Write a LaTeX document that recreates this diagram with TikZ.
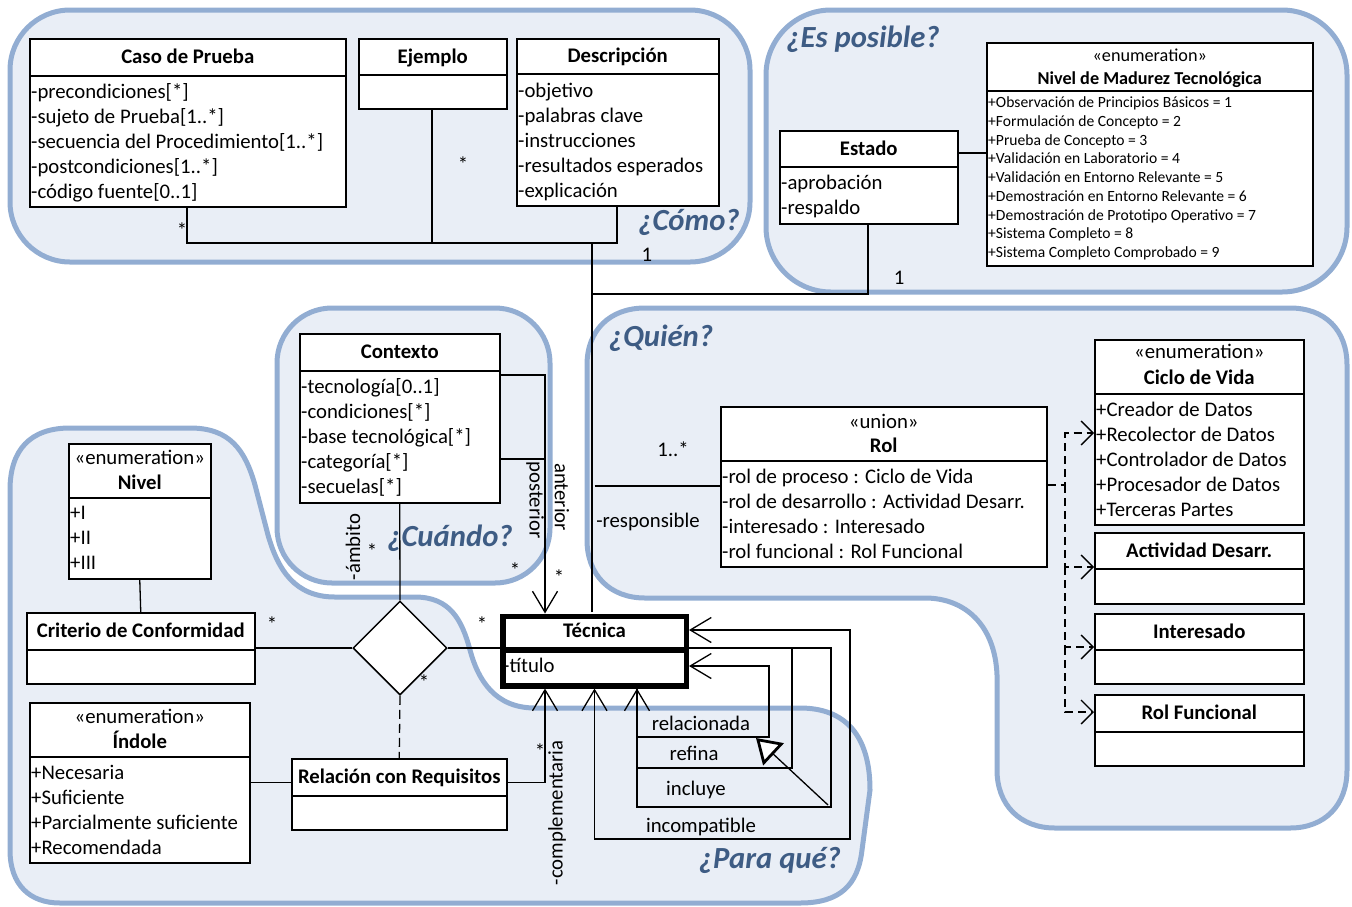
\documentclass[tikz,border=0pt]{standalone}
\usepackage{fontspec}
\setmainfont{Carlito}
\usetikzlibrary{arrows.meta,shapes.geometric}
\definecolor{blobline}{RGB}{146,173,210}
\definecolor{blobfill}{RGB}{233,238,246}
\definecolor{qblue}{RGB}{62,92,132}
\newcommand\szA{\fontsize{20.75}{25}\selectfont}
\newcommand\szB{\fontsize{15.6}{18.75}\selectfont}
\newcommand\szC{\fontsize{18.2}{22}\selectfont}
\newcommand\szQ{\fontsize{30.7}{36}\selectfont}
\newcommand\UMLbox[6]{%
  \node[box, minimum width={(#4)-(#2)}, minimum height={(#5)-(#3)}] (#1) at (#2,#3) {};
  \draw[dv] (#1.west |- 0,#6) -- (#1.east |- 0,#6);
}
\newcommand\attrlist[6]{%
  \foreach \tx [count=\ii from 0] in {#6} {\node[#2] (#1-\ii) at (#3,{#4+\ii*#5}) {\tx};}%
}
\begin{document}
\begin{tikzpicture}[x=1pt,y=-1pt,
  box/.style={draw, line width=1.5pt, fill=white, inner sep=0pt, anchor=north west},
  dv/.style={line width=1.5pt},
  conn/.style={line width=1.3pt},
  attr/.style={font=\szA, inner sep=0pt, anchor=base west},
  attrS/.style={font=\szB, inner sep=0pt, anchor=base west},
  ttl/.style={font=\szA\bfseries, inner sep=0pt, anchor=base},
  ster/.style={font=\szA, inner sep=0pt, anchor=base},
  lbl/.style={font=\szA, inner sep=0pt},
  qlab/.style={font=\szQ\bfseries\itshape, text=qblue, inner sep=0pt},
  blob/.style={draw=blobline, fill=blobfill, line width=5pt},
  barb/.style={-{Straight Barb[length=21pt,width=25pt]}},
  barbs/.style={{Straight Barb[length=21pt,width=25pt]}-{Straight Barb[length=21pt,width=25pt]}},
  dbarb/.style={-{Straight Barb[length=12pt,width=24pt]}},
  dsh/.style={dash pattern=on 8pt off 5pt},
]
\useasboundingbox (0,0) rectangle (1352,906);

% ---------- regions ----------
\draw[blob, rounded corners=60pt] (10,10) rectangle (750,262);
\draw[blob, rounded corners=65pt] (766,10) rectangle (1347,292);
\draw[blob, rounded corners=55pt] (277,308) rectangle (550,583);
\path[blob] (645,308) -- (1290,308) .. controls (1325,308) and (1347,330) .. (1347,365)
  -- (1347,770) .. controls (1347,805) and (1325,828) .. (1290,828)
  -- (1055,828) .. controls (1020,828) and (997,805) .. (997,770)
  -- (997,675) .. controls (995,625) and (965,598) .. (925,598)
  -- (645,598) .. controls (610,598) and (587,575) .. (587,540)
  -- (587,365) .. controls (587,330) and (610,308) .. (645,308) -- cycle;
\path[blob] (70,428) -- (190,428) .. controls (230,428) and (245,450) .. (255,485)
  -- (268,535) .. controls (278,570) and (295,597) .. (335,597)
  -- (415,597) .. controls (450,597) and (462,620) .. (470,650)
  .. controls (478,680) and (495,708) .. (535,708)
  -- (800,708) .. controls (845,708) and (870,735) .. (870,790)
  -- (862,850) .. controls (858,885) and (840,903) .. (800,903)
  -- (60,903) .. controls (30,903) and (10,885) .. (10,850)
  -- (10,490) .. controls (10,450) and (30,428) .. (70,428) -- cycle;

\node[qlab] (qcomo) at (689,222) {¿Cómo?};
\node[qlab] (qposible) at (863,39) {¿Es posible?};
\node[qlab] (qquien) at (661,338) {¿Quién?};
\node[qlab] (qcuando) at (450,538) {¿Cuándo?};
\node[qlab] (qparaque) at (770,860) {¿Para qué?};

% ---------- connectors (behind boxes) ----------
\coordinate (jc) at (592,243);
\draw[conn] (592,612) -- (jc);
\draw[conn] (187,206) |- (617,243) -- (617,205);
\draw[conn] (432,108) -- (432,243);
\draw[conn] (868,223) |- (592,294);

% ---------- classes ----------
\UMLbox{caso}{29}{38}{345}{206}{76}
\node[ttl] (caso-t) at (caso.north |- 0,63) {Caso de Prueba};
\attrlist{caso}{attr}{31}{98}{25}{-precondiciones[*],{-sujeto de Prueba[1..*]},{-secuencia del Procedimiento[1..*]},{-postcondiciones[1..*]},{-código fuente[0..1]}}

\UMLbox{ej}{358}{38}{506}{108}{75}
\node[ttl] (ej-t) at (ej.north |- 0,63) {Ejemplo};

\UMLbox{desc}{516}{38}{718}{205}{74}
\node[ttl] (desc-t) at (desc.north |- 0,62) {Descripción};
\attrlist{desc}{attr}{518}{97}{25}{-objetivo,-palabras clave,-instrucciones,-resultados esperados,-explicación}

\UMLbox{tmr}{986}{42}{1312}{265}{91}
\node[font=\szC, inner sep=0pt, anchor=base] (tmr-s) at (tmr.north |- 0,61) {«enumeration»};
\node[font=\szC\bfseries, inner sep=0pt, anchor=base] (tmr-t) at (tmr.north |- 0,84) {Nivel de Madurez Tecnológica};
\attrlist{tmr}{attrS}{988}{107.5}{18.75}{+Observación de Principios Básicos = 1,+Formulación de Concepto = 2,+Prueba de Concepto = 3,+Validación en Laboratorio = 4,+Validación en Entorno Relevante = 5,+Demostración en Entorno Relevante = 6,+Demostración de Prototipo Operativo = 7,+Sistema Completo = 8,+Sistema Completo Comprobado = 9}

\UMLbox{est}{779}{130}{957}{223}{167}
\node[ttl] (est-t) at (est.north |- 0,155) {Estado};
\attrlist{est}{attr}{781}{189}{25}{-aprobación,-respaldo}
\draw[conn] (est.east |- 0,153) -- (tmr.west |- 0,153);

\UMLbox{ctx}{299}{333}{499}{502}{371}
\node[ttl] (ctx-t) at (ctx.north |- 0,358) {Contexto};
\attrlist{ctx}{attr}{301}{393}{25}{{-tecnología[0..1]},-condiciones[*],-base tecnológica[*],-categoría[*],-secuelas[*]}

\UMLbox{rol}{720}{406}{1046}{566}{461}
\node[lbl, anchor=base] (rol-s) at (rol.north |- 0,428) {«union»};
\node[ttl] (rol-t) at (rol.north |- 0,452) {Rol};
\attrlist{rol}{attr}{722}{483}{25}{-rol de proceso : Ciclo de Vida,-rol de desarrollo : Actividad Desarr.,-interesado : Interesado,-rol funcional : Rol Funcional}

\UMLbox{cic}{1094}{339}{1303}{524}{394}
\node[lbl, anchor=base] (cic-s) at (cic.north |- 0,358) {«enumeration»};
\node[ttl] (cic-t) at (cic.north |- 0,384) {Ciclo de Vida};
\attrlist{cic}{attr}{1096}{416}{25}{+Creador de Datos,+Recolector de Datos,+Controlador de Datos,+Procesador de Datos,+Terceras Partes}

\UMLbox{act}{1094}{532}{1303}{603}{569}
\node[ttl] (act-t) at (act.north |- 0,557) {Actividad Desarr.};
\UMLbox{inter}{1094}{613}{1303}{683}{650}
\node[ttl] (inter-t) at (inter.north |- 0,638) {Interesado};
\UMLbox{rf}{1094}{694}{1303}{765}{732}
\node[ttl] (rf-t) at (rf.north |- 0,719) {Rol Funcional};

\UMLbox{niv}{68}{443}{210}{578}{498}
\node[lbl, anchor=base] (niv-s) at (niv.north |- 0,464) {«enumeration»};
\node[ttl] (niv-t) at (niv.north |- 0,489) {Nivel};
\attrlist{niv}{attr}{70}{519}{25}{+I,+II,+III}

\UMLbox{crit}{26}{612}{254}{683}{650}
\node[ttl] (crit-t) at (crit.north |- 0,637) {Criterio de Conformidad};

\UMLbox{ind}{29}{702}{249}{862}{757}
\node[lbl, anchor=base] (ind-s) at (ind.north |- 0,723) {«enumeration»};
\node[ttl] (ind-t) at (ind.north |- 0,748) {Índole};
\attrlist{ind}{attr}{31}{779}{25}{+Necesaria,+Suficiente,+Parcialmente suficiente,+Recomendada}

\UMLbox{rel}{291}{758}{506}{829}{796}
\node[ttl] (rel-t) at (rel.north |- 0,783) {Relación con Requisitos};

\node[draw, diamond, aspect=1, minimum width=94pt, minimum height=94pt, inner sep=0pt,
  line width=1.5pt, fill=white] (dia) at (400,648) {};

\node[draw, line width=5.5pt, fill=white, inner sep=0pt, anchor=north west,
  minimum width=183.5pt, minimum height=69.5pt] (tec) at (500,613.5) {};
\draw[line width=5.5pt] (tec.west |- 0,650) -- (tec.east |- 0,650);
\node[ttl] (tec-t) at (tec.north |- 0,637) {Técnica};
\node[attr] (tec-0) at (503,672) {-título};

% ---------- connectors ----------
\draw[conn] (niv.south) -- (crit.north);
\draw[conn] (ind.east) -- (rel.west |- ind.east);
\draw[conn] (crit.east |- dia.west) -- (dia.west);
\draw[conn] (dia.east) -- (tec.west |- dia.east);
\draw[conn] (ctx.south) -- (dia.north);
\draw[conn, dash pattern=on 9pt off 5pt] (dia.south) -- (rel.north);
\draw[conn, barb] (rel.east |- ind.east) -| (tec.south -| 545,0);
\draw[conn, barb] (ctx.east |- 0,375) -| (tec.north -| 545,0);
\draw[conn] (ctx.east |- 0,459) -- (545,459);
\draw[conn] (tec.north |- 0,486) -- (rol.west |- 0,486);

\draw[conn, dsh, dbarb] (rol.east |- 0,485) -| (1065,433) -- (cic.west |- 0,433);
\draw[conn, dsh, dbarb] (1065,485) |- (act.west |- 0,567);
\draw[conn, dsh, dbarb] (1065,567) |- (inter.west |- 0,647);
\draw[conn, dsh, dbarb] (1065,647) |- (rf.west |- 0,712);

\draw[conn, barbs] (tec.south -| 637,0) |- (769,737) |- (tec.east |- 0,666);
\draw[conn] (tec.south -| 637,0) |- (792,768) |- (tec.east |- 0,648);
\draw[conn] (tec.south -| 637,0) |- (831,807) |- (tec.east |- 0,648);
\draw[conn, barbs] (tec.south) |- (850,839) |- (tec.east |- 0,630);
\coordinate (incC) at (828,805);
\coordinate (relC) at (756,738);
\draw[conn, -{Triangle[length=24pt,width=30pt,fill=white,line width=2.8pt]}] (incC) -- (relC);

% ---------- labels ----------
\node[ster] (m1) at (182,237) {*};
\node[ster] (m2) at (463,171) {*};
\node[lbl] (m3) at (647,255) {1};
\node[lbl] (m4) at (899,278) {1};
\node[lbl] (m5) at (673,449) {1..*};
\node[lbl] (m6) at (648,522) {-responsible};
\node[lbl, rotate=-90] (m7) at (535,500) {posterior};
\node[lbl, rotate=-90] (m8) at (562,497) {anterior};
\node[ster] (m9) at (515,577) {*};
\node[ster] (m10) at (559,584) {*};
\node[lbl, rotate=90] (m11) at (353,547) {-ámbito};
\node[ster] (m12) at (372,558) {*};
\node[ster] (m13) at (272,631) {*};
\node[ster] (m14) at (482,631) {*};
\node[ster] (m15) at (424,689) {*};
\node[ster] (m16) at (540,758) {*};
\node[lbl, rotate=90] (m17) at (557,813) {-complementaria};
\node[lbl] (m18) at (701,723) {relacionada};
\node[lbl] (m19) at (694,753) {refina};
\node[lbl] (m20) at (696,790) {incluye};
\node[lbl] (m21) at (701,827) {incompatible};
\end{tikzpicture}
\end{document}
